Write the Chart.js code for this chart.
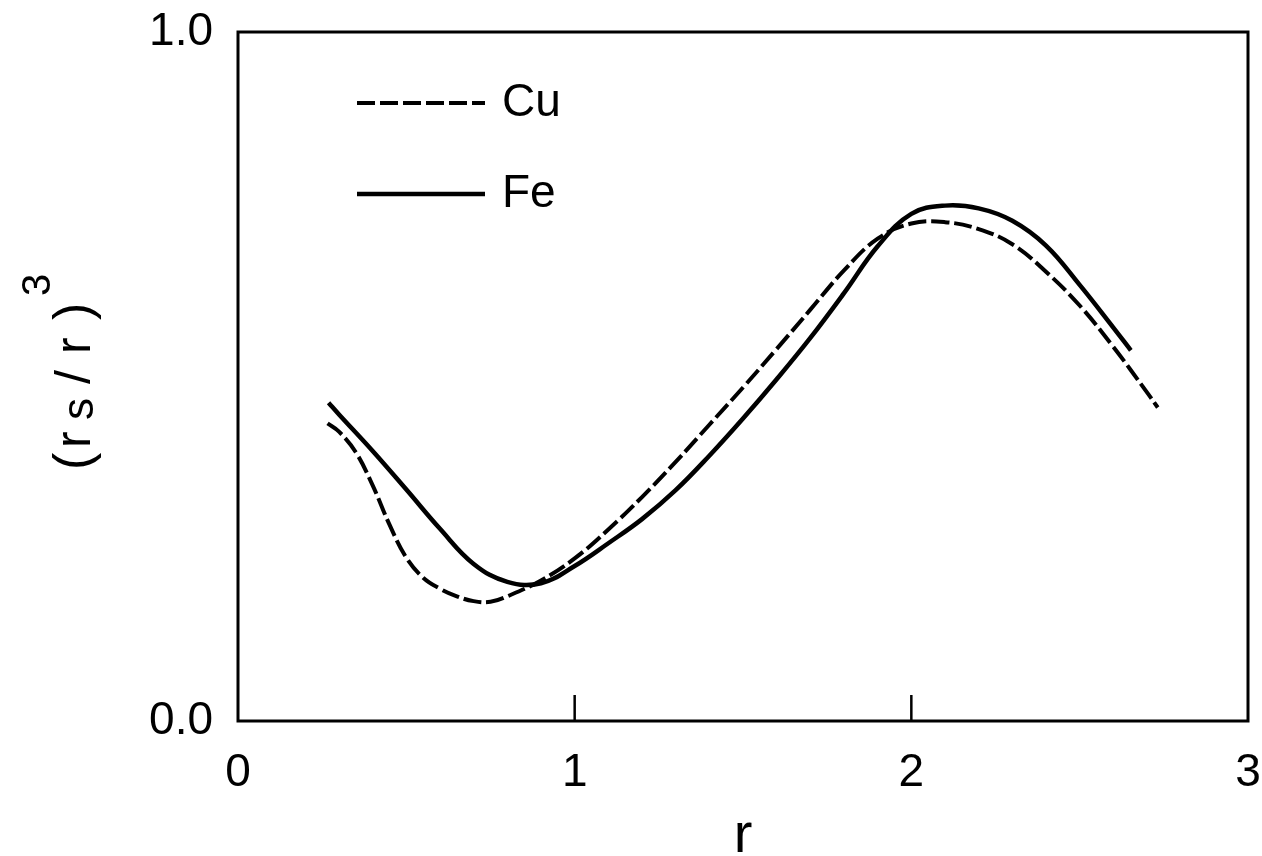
<!DOCTYPE html>
<html>
<head>
<meta charset="utf-8">
<script src="https://cdn.jsdelivr.net/npm/chart.js@4.4.0/dist/chart.umd.min.js"></script>
<style>
  html, body { margin: 0; padding: 0; background: #fff; }
  #wrap { width: 1262px; height: 856px; }
</style>
</head>
<body>
<div id="wrap"><canvas id="myChart" width="1262" height="856"></canvas></div>
<script>
// values
const seriesNames = ["Cu", "Fe"];
const xTicks = [0, 1, 2, 3];
const yTicks = [0, 1];

const cuR = [0.266, 0.3, 0.35, 0.4, 0.45, 0.5, 0.55, 0.6, 0.65, 0.7, 0.75, 0.8, 0.9, 1.0, 1.1, 1.2, 1.3, 1.4, 1.5, 1.6, 1.7, 1.8, 1.9, 2.0, 2.1, 2.2, 2.3, 2.4, 2.5, 2.6, 2.7, 2.732];
const cuY = [0.432, 0.420, 0.390, 0.342, 0.285, 0.237, 0.208, 0.192, 0.181, 0.174, 0.173, 0.181, 0.204, 0.236, 0.278, 0.325, 0.376, 0.430, 0.484, 0.540, 0.597, 0.654, 0.700, 0.722, 0.724, 0.714, 0.692, 0.652, 0.603, 0.543, 0.477, 0.455];

const feR = [0.269, 0.3, 0.4, 0.5, 0.6, 0.7, 0.8, 0.9, 1.0, 1.1, 1.2, 1.3, 1.4, 1.5, 1.6, 1.7, 1.8, 1.9, 2.0, 2.1, 2.2, 2.3, 2.4, 2.5, 2.6, 2.652];
const feY = [0.462, 0.445, 0.392, 0.336, 0.279, 0.228, 0.202, 0.200, 0.225, 0.258, 0.293, 0.335, 0.385, 0.439, 0.496, 0.556, 0.621, 0.689, 0.736, 0.748, 0.744, 0.726, 0.690, 0.633, 0.571, 0.538];

const FONT = "'Liberation Sans', Arial, Helvetica, sans-serif";

const toPoints = (xs, ys) => xs.map((x, i) => ({ x: x, y: ys[i] }));

// frame, inward ticks, legend and y title
const decorations = {
  id: "decorations",
  afterDraw(chart) {
    const { ctx, chartArea: a, scales } = chart;
    ctx.save();
    ctx.strokeStyle = "#000";
    ctx.lineWidth = 3;
    ctx.strokeRect(a.left, a.top, a.right - a.left, a.bottom - a.top);

    // small ticks pointing up from the bottom axis
    ctx.lineWidth = 2.5;
    xTicks.slice(1, -1).forEach((v) => {
      const px = scales.x.getPixelForValue(v);
      ctx.beginPath();
      ctx.moveTo(px, a.bottom);
      ctx.lineTo(px, a.bottom - 26);
      ctx.stroke();
    });

    // legend
    const rows = [103, 194];
    chart.data.datasets.forEach((ds, i) => {
      const y = rows[i];
      ctx.lineWidth = ds.borderWidth;
      ctx.setLineDash(ds.borderDash || []);
      ctx.beginPath();
      ctx.moveTo(357, y);
      ctx.lineTo(485, y);
      ctx.stroke();
      ctx.setLineDash([]);
      ctx.fillStyle = "#000";
      ctx.font = "46px " + FONT;
      ctx.textBaseline = "middle";
      ctx.textAlign = "left";
      ctx.fillText(ds.label, 502, y);
    });

    // y axis title (r_s / r)^3
    ctx.translate(90, 470);
    ctx.rotate(-Math.PI / 2);
    ctx.fillStyle = "#000";
    ctx.textBaseline = "alphabetic";
    ctx.textAlign = "left";
    const parts = [
      ["(", 0, 0, 52],
      ["r", 22, 0, 50],
      ["s", 50, 3, 44],
      ["/", 86, 0, 50],
      ["r", 116, 0, 50],
      [")", 150, 0, 52],
      ["3", 174, -40, 40],
    ];
    parts.forEach(([t, x, y, s]) => {
      ctx.font = s + "px " + FONT;
      ctx.fillText(t, x, y);
    });
    ctx.restore();
  },
};

const ctx = document.getElementById("myChart");
const chart = new Chart(ctx, {
  type: "scatter",
  data: {
    datasets: [
      {
        label: seriesNames[0],
        data: toPoints(cuR, cuY),
        showLine: true,
        borderColor: "#000",
        borderWidth: 4,
        borderDash: [18, 5],
        pointRadius: 0,
        tension: 0.4,
        fill: false,
      },
      {
        label: seriesNames[1],
        data: toPoints(feR, feY),
        showLine: true,
        borderColor: "#000",
        borderWidth: 4.5,
        pointRadius: 0,
        tension: 0.4,
        fill: false,
      },
    ],
  },
  options: {
    responsive: false,
    animation: false,
    devicePixelRatio: 1,
    layout: { padding: { left: 0, top: 32, right: 14, bottom: 0 } },
    plugins: {
      legend: { display: false },
      tooltip: { enabled: false },
    },
    scales: {
      x: {
        type: "linear",
        min: 0,
        max: 3,
        afterFit: (scale) => {
          scale.height = 856 - 721;
          scale.paddingLeft = 0;
          scale.paddingRight = 0;
        },
        afterBuildTicks: (scale) => { scale.ticks = xTicks.map((v) => ({ value: v })); },
        grid: { display: false, drawTicks: false },
        border: { display: false },
        ticks: {
          color: "#000",
          padding: 25,
          maxRotation: 0,
          font: { size: 46, family: FONT },
          callback: (v) => String(v),
        },
        title: {
          display: true,
          text: "r",
          color: "#000",
          font: { size: 56, family: FONT },
          padding: { top: 0, bottom: -14 },
        },
      },
      y: {
        type: "linear",
        min: 0,
        max: 1,
        afterFit: (scale) => {
          scale.width = 238;
          scale.paddingTop = 0;
          scale.paddingBottom = 0;
        },
        afterBuildTicks: (scale) => { scale.ticks = yTicks.map((v) => ({ value: v })); },
        grid: { display: false, drawTicks: false },
        border: { display: false },
        ticks: {
          color: "#000",
          padding: 25,
          font: { size: 46, family: FONT },
          callback: (v) => Number(v).toFixed(1),
        },
      },
    },
  },
  plugins: [decorations],
});
</script>
</body>
</html>
